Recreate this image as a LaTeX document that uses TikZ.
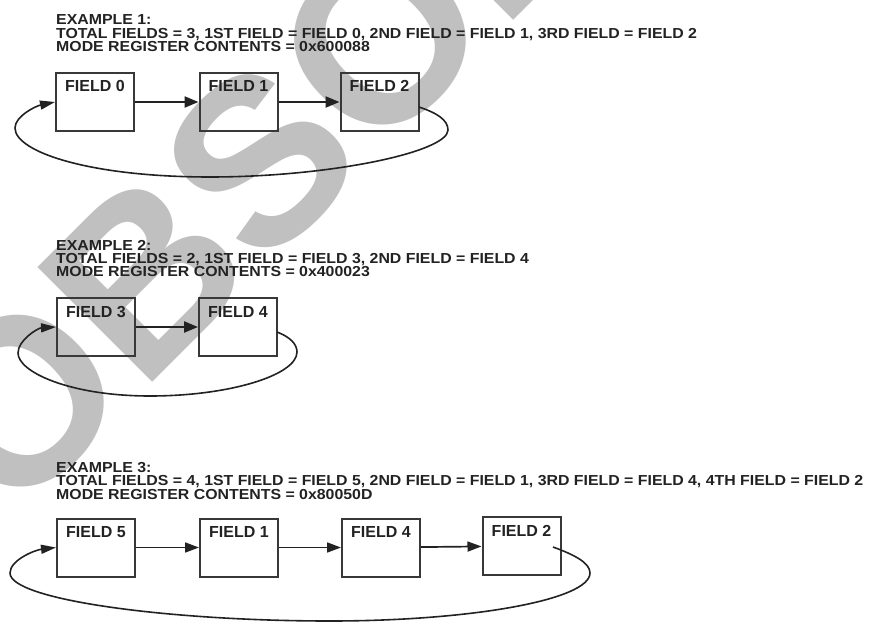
\documentclass[tikz,border=0pt]{standalone}
\usepackage{fontspec}
\setmainfont{Liberation Sans}
\newfontfamily\hdrfont{Liberation Sans}[FakeStretch=1.095]
\usetikzlibrary{arrows.meta}
\definecolor{wm}{HTML}{C0C0C0}
\definecolor{ink}{HTML}{222222}
\begin{document}
\begin{tikzpicture}[x=1pt,y=-1pt,
  hdr/.style={anchor=base west,inner sep=0pt,text=ink,font=\hdrfont\fontsize{14.5}{14.5}\selectfont\bfseries},
  fieldbox/.style={draw=ink!90,line width=2pt,minimum width=78pt,minimum height=58pt,inner sep=0pt},
  lbl/.style={anchor=base,inner sep=0pt,text=ink,font=\fontsize{16}{16}\selectfont\bfseries},
  flow/.style={draw=ink,line width=2.3pt,-{Triangle[length=14pt,width=11pt]}},
  flowthin/.style={draw=ink,line width=1.7pt,-{Triangle[length=14pt,width=10pt]}},
  loop/.style={draw=ink,line width=1.6pt,-{Triangle[length=15pt,width=9pt]}}]
\useasboundingbox (0,0) rectangle (870,623);
\clip (0,0) rectangle (870,623);
% watermark
\node[rotate=45,inner sep=0pt,text=wm,font=\fontsize{236}{236}\selectfont\bfseries] (wmark) at (413,7) {OBSOLETE};
% Example 1
\node[hdr] (e1a) at (56,25) {EXAMPLE 1:};
\node[hdr] (e1b) at (56,38.3) {TOTAL FIELDS = 3, 1ST FIELD = FIELD 0, 2ND FIELD = FIELD 1, 3RD FIELD = FIELD 2};
\node[hdr] (e1c) at (56,51.7) {MODE REGISTER CONTENTS = 0x600088};
\node[fieldbox] (f0) at (95,102) {};
\node[fieldbox] (f1) at (238.5,102) {};
\node[fieldbox] (f2) at (379.5,102) {};
\node[lbl] (f0t) at ([yshift=-20pt]f0.north) {FIELD 0};
\node[lbl] (f1t) at ([yshift=-20pt]f1.north) {FIELD 1};
\node[lbl] (f2t) at ([yshift=-20pt]f2.north) {FIELD 2};
\draw[flow] (f0) -- (f1);
\draw[flow] (f1) -- (f2);
\coordinate (l1s) at (419,107);
\draw[loop] (l1s) .. controls (437,113) and (448,120) .. (448,130)
  .. controls (448,152) and (330,177) .. (210,177)
  .. controls (90,177) and (15,152) .. (15,128)
  .. controls (15,116) and (36,106) .. (f0.west);
% Example 2
\node[hdr] (e2a) at (56,250) {EXAMPLE 2:};
\node[hdr] (e2b) at (56,263.3) {TOTAL FIELDS = 2, 1ST FIELD = FIELD 3, 2ND FIELD = FIELD 4};
\node[hdr] (e2c) at (56,276.7) {MODE REGISTER CONTENTS = 0x400023};
\node[fieldbox] (f3) at (96,327) {};
\node[fieldbox] (f4) at (238,327) {};
\node[lbl] (f3t) at ([yshift=-20pt]f3.north) {FIELD 3};
\node[lbl] (f4t) at ([yshift=-20pt]f4.north) {FIELD 4};
\draw[flow] (f3) -- (f4);
\coordinate (l2s) at (277,332);
\draw[loop] (l2s) .. controls (290,337) and (297,344) .. (297,352)
  .. controls (297,375) and (230,396) .. (150,396)
  .. controls (70,396) and (18,372) .. (18,353)
  .. controls (18,340) and (38,328) .. (f3.west);
% Example 3
\node[hdr] (e3a) at (56,472.3) {EXAMPLE 3:};
\node[hdr] (e3b) at (56,485.8) {TOTAL FIELDS = 4, 1ST FIELD = FIELD 5, 2ND FIELD = FIELD 1, 3RD FIELD = FIELD 4, 4TH FIELD = FIELD 2};
\node[hdr] (e3c) at (56,499.3) {MODE REGISTER CONTENTS = 0x80050D};
\node[fieldbox] (f5) at (96,547.5) {};
\node[fieldbox] (f1b) at (239,547.5) {};
\node[fieldbox] (f4b) at (381,547.5) {};
\node[fieldbox] (f2b) at (521.5,546) {};
\node[lbl] (f5t) at ([yshift=-20pt]f5.north) {FIELD 5};
\node[lbl] (f1bt) at ([yshift=-20pt]f1b.north) {FIELD 1};
\node[lbl] (f4bt) at ([yshift=-20pt]f4b.north) {FIELD 4};
\node[lbl] (f2bt) at ([yshift=-20pt]f2b.north) {FIELD 2};
\draw[flowthin] (f5) -- (f1b);
\draw[flowthin] (f1b) -- (f4b);
\draw[flowthin] (f4b) -- (f2b);
\coordinate (l3s) at (553,547);
\draw[loop] (l3s) .. controls (575,555) and (590,563) .. (590,573)
  .. controls (590,600) and (470,621) .. (330,621)
  .. controls (170,621) and (10,600) .. (10,573)
  .. controls (10,560) and (35,550) .. (f5.west);
\end{tikzpicture}
\end{document}
